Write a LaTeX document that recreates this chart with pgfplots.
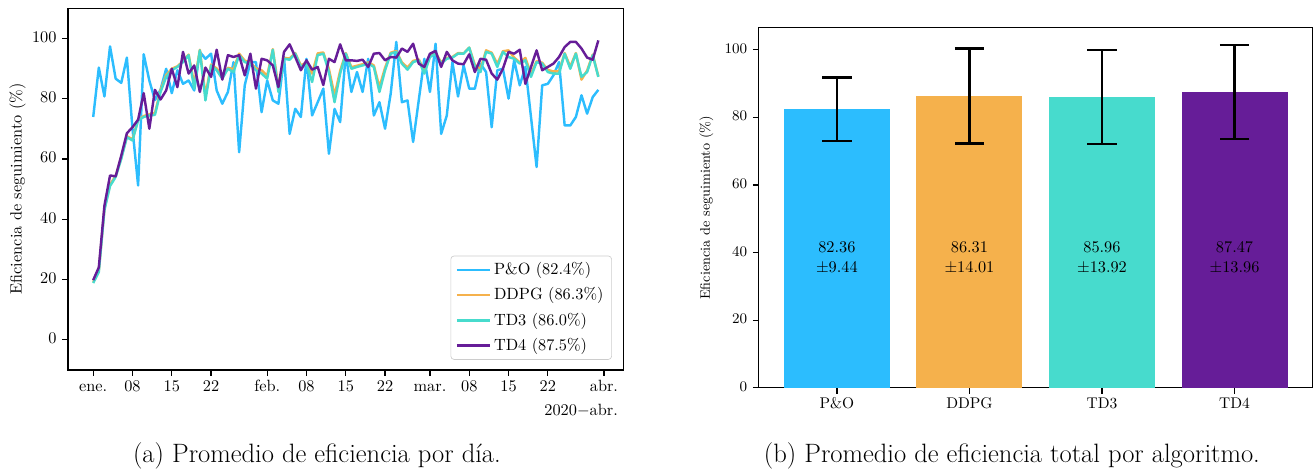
\documentclass[border=0pt]{standalone}
\usepackage{fontspec}
\usepackage{pgfplots}
\usepackage{pgfplotstable}
\pgfplotsset{compat=1.18}

\definecolor{cPO}{HTML}{2CBDFE}
\definecolor{cDDPG}{HTML}{F5B14C}
\definecolor{cTD3}{HTML}{47DBCD}
\definecolor{cTD4}{HTML}{661D98}

% daily mean tracking efficiency (%), day 0 = 2020-01-01
\pgfplotstableread{
day PO DDPG TD3 TD4
0 73.9 19.2 18.8 19.8
1 90.3 23.0 22.5 24.0
2 80.7 43.5 43.0 44.5
3 97.3 51.5 51.0 54.5
4 86.6 54.3 54.0 54.2
5 85.2 60.5 60.0 61.1
6 93.6 67.5 67.2 68.5
7 70.0 66.5 66.1 70.5
8 51.2 73.0 72.8 73.0
9 94.7 74.2 73.9 81.8
10 86.0 74.8 74.4 70.0
11 79.5 75.2 74.6 82.9
12 83.0 82.8 82.2 79.7
13 89.9 87.8 87.2 82.7
14 81.8 89.9 89.4 89.9
15 89.4 90.7 90.5 83.8
16 84.9 92.4 92.1 95.5
17 86.0 94.6 94.4 88.3
18 82.7 84.8 83.3 91.0
19 95.5 96.2 96.0 82.2
20 93.2 81.0 79.4 90.3
21 94.9 91.3 91.0 87.2
22 82.7 90.0 89.4 96.2
23 78.3 87.6 86.6 86.3
24 82.2 90.2 89.9 94.4
25 92.1 89.8 88.8 93.8
26 62.2 94.9 94.4 94.4
27 84.4 92.6 92.1 87.7
28 92.1 91.9 91.6 94.9
29 92.1 90.0 89.4 83.3
30 75.5 89.4 88.3 93.2
31 86.0 87.6 86.6 92.7
32 79.4 96.4 96.2 91.0
33 78.3 83.8 82.2 83.8
34 93.8 93.5 93.2 95.5
35 68.3 93.3 92.9 98.0
36 76.6 95.1 94.9 93.8
37 73.9 91.0 90.5 89.4
38 93.2 92.0 91.6 92.7
39 74.4 88.3 85.5 89.6
40 78.8 95.0 94.4 90.5
41 83.3 95.3 94.9 84.5
42 61.7 89.8 88.8 93.2
43 76.6 81.0 78.8 92.1
44 72.2 89.2 88.3 98.0
45 94.9 95.1 94.9 92.7
46 82.2 90.4 89.9 92.7
47 88.8 90.9 90.5 92.5
48 82.2 91.4 91.0 92.9
49 93.2 92.0 91.6 90.5
50 74.4 91.0 90.5 94.9
51 78.8 83.8 82.2 95.1
52 70.0 90.2 89.4 92.7
53 81.6 95.2 94.9 93.8
54 98.8 95.8 95.5 93.6
55 78.8 92.0 91.6 96.6
56 79.4 90.3 89.6 95.5
57 65.6 92.5 92.1 98.2
58 79.4 93.0 92.7 91.6
59 93.2 89.3 88.3 90.5
60 82.2 94.1 93.8 94.9
61 98.2 95.2 94.9 95.8
62 68.3 92.0 91.6 90.5
63 74.4 93.5 93.2 95.5
64 92.1 93.8 93.6 92.7
65 80.7 95.1 94.9 91.6
66 91.0 95.0 94.9 91.4
67 83.3 96.9 96.9 94.7
68 83.3 91.2 90.5 88.8
69 91.6 89.8 88.8 93.2
70 88.8 96.0 95.5 92.9
71 70.5 95.2 94.9 88.3
72 89.4 91.5 90.5 86.3
73 89.9 95.7 95.5 89.9
74 80.0 96.0 93.8 95.5
75 92.7 93.6 93.2 94.9
76 84.4 92.0 91.6 96.2
77 90.5 93.5 92.7 84.9
78 73.9 88.2 87.2 90.5
79 57.3 92.4 92.1 96.0
80 84.4 91.9 91.6 89.4
81 84.9 89.5 88.8 90.5
82 87.7 89.0 88.3 91.6
83 92.1 89.0 88.3 93.8
84 71.1 95.1 94.9 97.1
85 71.1 90.6 89.9 98.8
86 73.9 95.1 94.9 98.8
87 81.1 86.3 87.2 96.6
88 75.0 89.3 88.8 93.6
89 80.5 94.6 94.4 92.9
90 82.9 87.4 87.2 99.3
}\daily

\pgfplotsset{
  mplstyle/.style={
    scale only axis,
    axis line style={black, line width=0.8pt},
    tick style={black, line width=0.8pt},
    major tick length=3.5pt,
    tick align=outside,
    xtick pos=bottom, ytick pos=left,
    typeset ticklabels with strut,
    tick label style={font=\fontsize{10}{12}\selectfont},
    xticklabel style={yshift=2pt},
    label style={font=\fontsize{10}{12}\selectfont},
  },
  barerr/.style={
    ybar, bar width=0.8, bar shift=0pt, draw=none,
    error bars/y dir=both, error bars/y explicit,
    error bars/error mark=|,
    error bars/error bar style={black, line width=1.5pt},
    error bars/error mark options={black, line width=1.5pt, mark size=9pt},
  },
}

\begin{document}
\begin{tikzpicture}
\useasboundingbox (0pt,0pt) rectangle (807pt,-290pt);

% (a) daily efficiency
\begin{axis}[
  mplstyle,
  at={(41.7pt,-227pt)}, anchor=south west,
  width=341pt, height=222pt,
  clip mode=individual,
  xmin=-4.5, xmax=94.5,
  ymin=-10, ymax=110,
  ytick={0,20,40,60,80,100},
  xtick={0,7,14,21,31,38,45,52,60,67,74,81,91},
  xticklabels={ene.,08,15,22,feb.,08,15,22,mar.,08,15,22,abr.},
  ylabel={Eficiencia de seguimiento (\%)},
  ylabel shift=-3pt,
  legend style={at={(0.979,0.028)}, anchor=south east,
    draw=black!20, rounded corners=2pt, fill=white,
    font=\fontsize{10}{12}\selectfont,
    cells={anchor=west}, row sep=2.5pt,
    inner xsep=3pt, inner ysep=2pt},
  legend image code/.code={\draw[#1] (0pt,0pt) -- (20pt,0pt);},
  every axis plot/.append style={line width=1.5pt, line join=round},
]
  \addplot[color=cPO]   table[x=day, y=PO]   {\daily};
  \addlegendentry{P\&O (82.4\%)}
  \addplot[color=cDDPG] table[x=day, y=DDPG] {\daily};
  \addlegendentry{DDPG (86.3\%)}
  \addplot[color=cTD3]  table[x=day, y=TD3]  {\daily};
  \addlegendentry{TD3 (86.0\%)}
  \addplot[color=cTD4]  table[x=day, y=TD4]  {\daily};
  \addlegendentry{TD4 (87.5\%)}
  \node[anchor=base east, font=\fontsize{10}{12}\selectfont, yshift=-28pt]
    at (rel axis cs:1,0) {2020$-$abr.};
\end{axis}

% (b) overall mean per algorithm
\begin{axis}[
  mplstyle,
  at={(465.6pt,-238pt)}, anchor=south west,
  width=340pt, height=221pt,
  xmin=-0.59, xmax=3.59,
  ymin=0, ymax=106.5,
  ytick={0,20,40,60,80,100},
  xtick={0,1,2,3},
  xticklabels={P\&O,DDPG,TD3,TD4},
  tick label style={font=\fontsize{9.5}{11}\selectfont},
  ylabel={Eficiencia de seguimiento (\%)},
  ylabel style={font=\fontsize{8.5}{10}\selectfont},
]
  \addplot[barerr, fill=cPO]   coordinates {(0,82.36) +- (0,9.44)};
  \addplot[barerr, fill=cDDPG] coordinates {(1,86.31) +- (0,14.01)};
  \addplot[barerr, fill=cTD3]  coordinates {(2,85.96) +- (0,13.92)};
  \addplot[barerr, fill=cTD4]  coordinates {(3,87.47) +- (0,13.96)};
  \node[align=center, font=\fontsize{10}{12.3}\selectfont] at (axis cs:0,38.5) {82.36\\$\pm$9.44};
  \node[align=center, font=\fontsize{10}{12.3}\selectfont] at (axis cs:1,38.5) {86.31\\$\pm$14.01};
  \node[align=center, font=\fontsize{10}{12.3}\selectfont] at (axis cs:2,38.5) {85.96\\$\pm$13.92};
  \node[align=center, font=\fontsize{10}{12.3}\selectfont] at (axis cs:3,38.5) {87.47\\$\pm$13.96};
\end{axis}

\node[anchor=base, font=\fontsize{16.3}{19}\selectfont] at (194.5pt,-284pt)
  {(a) Promedio de eficiencia por día.};
\node[anchor=base, font=\fontsize{16.3}{19}\selectfont] at (621pt,-284pt)
  {(b) Promedio de eficiencia total por algoritmo.};
\end{tikzpicture}
\end{document}
